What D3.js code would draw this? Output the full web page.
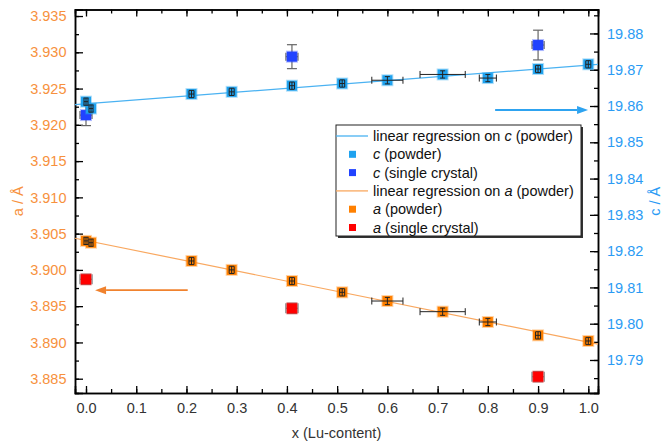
<!DOCTYPE html>
<html>
<head>
<meta charset="utf-8">
<script src="https://cdn.jsdelivr.net/npm/d3@7"></script>
<style>
  body { margin: 0; background: #fff; }
  svg { display: block; font-family: Arial, "Liberation Sans", sans-serif; }
</style>
</head>
<body>
<svg id="chart" width="664" height="444"></svg>
<script>
// Lu-content of the samples
const xPowder = [0.00, 0.01, 0.21, 0.29, 0.41, 0.51, 0.60, 0.71, 0.80, 0.90, 1.00];
const xPowderErr = [0.004, 0.004, 0.005, 0.005, 0.005, 0.005, 0.031, 0.045, 0.017, 0.005, 0.005];
// lattice parameters from powder data
const aPowder = [3.9040, 3.90375, 3.90123, 3.9000, 3.89847, 3.89691, 3.89571, 3.89424, 3.89282, 3.89098, 3.8902];
const cPowder = [19.8612, 19.8593, 19.8633, 19.8639, 19.8656, 19.8662, 19.8671, 19.8687, 19.8677, 19.8702, 19.8715];
const aPowderErr = 0.0005;
const cPowderErr = 0.001;
// single crystal results
const xSingle = [0.00, 0.41, 0.90];
const xSingleErr = [0.012, 0.012, 0.012];
const aSingle = [3.8987, 3.8947, 3.88528];
const aSingleErr = [0.0007, 0.0007, 0.0007];
const cSingle = [19.8575, 19.8736, 19.8768];
const cSingleErr = [0.0029, 0.0033, 0.0041];
// axis ticks
const xTicks = [0.0, 0.1, 0.2, 0.3, 0.4, 0.5, 0.6, 0.7, 0.8, 0.9, 1.0];
const aTicks = [3.885, 3.890, 3.895, 3.900, 3.905, 3.910, 3.915, 3.920, 3.925, 3.930, 3.935];
const cTicks = [19.79, 19.80, 19.81, 19.82, 19.83, 19.84, 19.85, 19.86, 19.87, 19.88];
const legendLabels = [
  ["linear regression on ", "c", " (powder)"],
  ["", "c", " (powder)"],
  ["", "c", " (single crystal)"],
  ["linear regression on ", "a", " (powder)"],
  ["", "a", " (powder)"],
  ["", "a", " (single crystal)"]
];

const W = 664, H = 444;
const margin = { left: 75, right: 66, top: 9.5, bottom: 51 };
const iw = W - margin.left - margin.right;
const ih = H - margin.top - margin.bottom;

const colA = "#f7913d", colC = "#2b9bf4";
const colCPowder = "#1fa2ef", colCSingle = "#2143ff";
const colAPowder = "#ff8000", colASingle = "#ff0000";
const colCLine = "#4ab2f2", colALine = "#f9a860";

const svg = d3.select("#chart");
const g = svg.append("g").attr("transform", `translate(${margin.left},${margin.top})`);

const x = d3.scaleLinear().domain([-0.0219, 1.0193]).range([0, iw]);
const ya = d3.scaleLinear().domain([3.88303, 3.9359]).range([ih, 0]);
const yc = d3.scaleLinear().domain([19.7809, 19.8866]).range([ih, 0]);

// least-squares fit helper
function linfit(xs, ys) {
  const n = xs.length;
  const mx = d3.mean(xs), my = d3.mean(ys);
  let sxy = 0, sxx = 0;
  for (let i = 0; i < n; i++) { sxy += (xs[i] - mx) * (ys[i] - my); sxx += (xs[i] - mx) ** 2; }
  const k = sxy / sxx;
  return { k, b: my - k * mx };
}
const fitA = linfit(xPowder, aPowder);
const fitC = linfit(xPowder, cPowder);

// axes: all ticks point inward
function styleAxis(sel, color) {
  sel.select(".domain").attr("stroke", "#000").attr("stroke-width", 1.5);
  sel.selectAll(".tick line").attr("stroke", "#000").attr("stroke-width", 1.3);
  sel.selectAll(".tick text").attr("fill", color).style("font-size", "14.5px");
}
const xMinor = d3.range(0, 1.001, 0.05);
const aMinor = d3.range(3.8825, 3.9360, 0.0025);
const cMinor = d3.range(19.785, 19.8866, 0.005);

// minor ticks
g.append("g").attr("transform", `translate(0,${ih})`)
  .call(d3.axisBottom(x).tickValues(xMinor).tickSize(-4).tickFormat(""))
  .call(s => styleAxis(s, "#333"));
g.append("g")
  .call(d3.axisTop(x).tickValues(xMinor).tickSize(-4).tickFormat(""))
  .call(s => styleAxis(s, "#333"));
g.append("g")
  .call(d3.axisLeft(ya).tickValues(aMinor.filter(v => v >= ya.domain()[0] && v <= ya.domain()[1])).tickSize(-4).tickFormat(""))
  .call(s => styleAxis(s, colA));
g.append("g").attr("transform", `translate(${iw},0)`)
  .call(d3.axisRight(yc).tickValues(cMinor.filter(v => v >= yc.domain()[0] && v <= yc.domain()[1])).tickSize(-4).tickFormat(""))
  .call(s => styleAxis(s, colC));

// major ticks
g.append("g").attr("transform", `translate(0,${ih})`)
  .call(d3.axisBottom(x).tickValues(xTicks).tickSize(-7).tickPadding(10).tickFormat(d3.format(".1f")))
  .call(s => styleAxis(s, "#333"));
g.append("g")
  .call(d3.axisTop(x).tickValues(xTicks).tickSize(-7).tickFormat(""))
  .call(s => styleAxis(s, "#333"));
g.append("g")
  .call(d3.axisLeft(ya).tickValues(aTicks).tickSize(-8).tickPadding(8.5).tickFormat(d3.format(".3f")))
  .call(s => styleAxis(s, colA));
g.append("g").attr("transform", `translate(${iw},0)`)
  .call(d3.axisRight(yc).tickValues(cTicks).tickSize(-8).tickPadding(9).tickFormat(d3.format(".2f")))
  .call(s => styleAxis(s, colC));

// axis titles
svg.append("text").attr("x", margin.left + iw / 2).attr("y", 438)
  .attr("text-anchor", "middle").attr("fill", "#333").style("font-size", "14.5px")
  .text("x (Lu-content)");
svg.append("text").attr("transform", `translate(23,${margin.top + ih / 2}) rotate(-90)`)
  .attr("text-anchor", "middle").attr("fill", colA).style("font-size", "14.5px")
  .text("a / Å");
svg.append("text").attr("transform", `translate(660,${margin.top + ih / 2}) rotate(-90)`)
  .attr("text-anchor", "middle").attr("fill", colC).style("font-size", "14.5px")
  .text("c / Å");

// regression lines
const plot = g.append("g");
const xr = x.domain();
plot.append("line")
  .attr("x1", x(xr[0])).attr("y1", yc(fitC.b + fitC.k * xr[0]))
  .attr("x2", x(xr[1])).attr("y2", yc(fitC.b + fitC.k * xr[1]))
  .attr("stroke", colCLine).attr("stroke-width", 1.2);
plot.append("line")
  .attr("x1", x(xr[0])).attr("y1", ya(fitA.b + fitA.k * xr[0]))
  .attr("x2", x(xr[1])).attr("y2", ya(fitA.b + fitA.k * xr[1]))
  .attr("stroke", colALine).attr("stroke-width", 1.2);

// error bars with caps
function errorBars(sel, xs, ys, xe, ye, yScale, color, width, capX, capY) {
  xs.forEach((xv, i) => {
    const px = x(xv), py = yScale(ys[i]);
    const ex = Array.isArray(xe) ? xe[i] : xe;
    const ey = Array.isArray(ye) ? ye[i] : ye;
    const grp = sel.append("g").attr("stroke", color).attr("stroke-width", width).attr("fill", "none");
    if (ex > 0) {
      const x1 = x(xv - ex), x2 = x(xv + ex);
      grp.append("line").attr("x1", x1).attr("x2", x2).attr("y1", py).attr("y2", py);
      grp.append("line").attr("x1", x1).attr("x2", x1).attr("y1", py - capX).attr("y2", py + capX);
      grp.append("line").attr("x1", x2).attr("x2", x2).attr("y1", py - capX).attr("y2", py + capX);
    }
    if (ey > 0) {
      const y1 = yScale(ys[i] - ey), y2 = yScale(ys[i] + ey);
      grp.append("line").attr("x1", px).attr("x2", px).attr("y1", y1).attr("y2", y2);
      grp.append("line").attr("x1", px - capY).attr("x2", px + capY).attr("y1", y1).attr("y2", y1);
      grp.append("line").attr("x1", px - capY).attr("x2", px + capY).attr("y1", y2).attr("y2", y2);
    }
  });
}
function squares(sel, xs, ys, yScale, color, size) {
  sel.selectAll(null).data(xs).enter().append("rect")
    .attr("x", d => x(d) - size / 2)
    .attr("y", (d, i) => yScale(ys[i]) - size / 2)
    .attr("width", size).attr("height", size)
    .attr("fill", color)
    .attr("stroke", color).attr("stroke-opacity", 0.35).attr("stroke-width", 2);
}

// single crystal: grey bars behind the markers
errorBars(plot, xSingle, cSingle, xSingleErr, cSingleErr, yc, "#666", 1.2, 4, 5);
errorBars(plot, xSingle, aSingle, xSingleErr, aSingleErr, ya, "#888", 1.4, 5, 5);
squares(plot, xSingle, cSingle, yc, colCSingle, 10);
squares(plot, xSingle, aSingle, ya, colASingle, 10);

// powder: markers with dark bars on top
squares(plot, xPowder, cPowder, yc, colCPowder, 10);
squares(plot, xPowder, aPowder, ya, colAPowder, 10);
errorBars(plot, xPowder, cPowder, xPowderErr, cPowderErr, yc, "#222", 1, 3.5, 2.5);
errorBars(plot, xPowder, aPowder, xPowderErr, aPowderErr, ya, "#222", 1, 3.5, 2.5);

// arrows pointing to the matching axis
function arrow(x1, x2, yv, color) {
  const dir = Math.sign(x2 - x1);
  const headLen = 11, headW = 4;
  plot.append("line").attr("x1", x1).attr("x2", x2 - dir * headLen).attr("y1", yv).attr("y2", yv)
    .attr("stroke", color).attr("stroke-width", 1.8);
  plot.append("path")
    .attr("d", `M${x2},${yv} L${x2 - dir * headLen},${yv - headW} L${x2 - dir * headLen},${yv + headW} Z`)
    .attr("fill", color);
}
arrow(x(0.8145), x(0.9995), yc(19.8589), "#2ea3f0");
arrow(x(0.2025), x(0.0181), ya(3.8972), "#f0822e");

// legend
const lg = svg.append("g").attr("transform", "translate(336,125)");
const lw = 245, lh = 111;
lg.append("rect").attr("x", 2).attr("y", 2).attr("width", lw).attr("height", lh).attr("fill", "#333");
lg.append("rect").attr("width", lw).attr("height", lh).attr("fill", "#fff").attr("stroke", "#222").attr("stroke-width", 1);
const legendKinds = [
  { type: "line", color: colCLine },
  { type: "sq", color: colCPowder },
  { type: "sq", color: colCSingle },
  { type: "line", color: colALine },
  { type: "sq", color: colAPowder },
  { type: "sq", color: colASingle }
];
legendLabels.forEach((parts, i) => {
  const cy = 11 + i * 18.3;
  const k = legendKinds[i];
  if (k.type === "line") {
    lg.append("line").attr("x1", 0).attr("x2", 32).attr("y1", cy).attr("y2", cy)
      .attr("stroke", k.color).attr("stroke-width", 1.3);
  } else {
    lg.append("rect").attr("x", 13).attr("y", cy - 3.5).attr("width", 7).attr("height", 7).attr("fill", k.color);
  }
  const t = lg.append("text").attr("x", 37).attr("y", cy + 5).attr("fill", "#111").style("font-size", "14.5px");
  t.append("tspan").text(parts[0]);
  t.append("tspan").style("font-style", "italic").text(parts[1]);
  t.append("tspan").text(parts[2]);
});
</script>
</body>
</html>
